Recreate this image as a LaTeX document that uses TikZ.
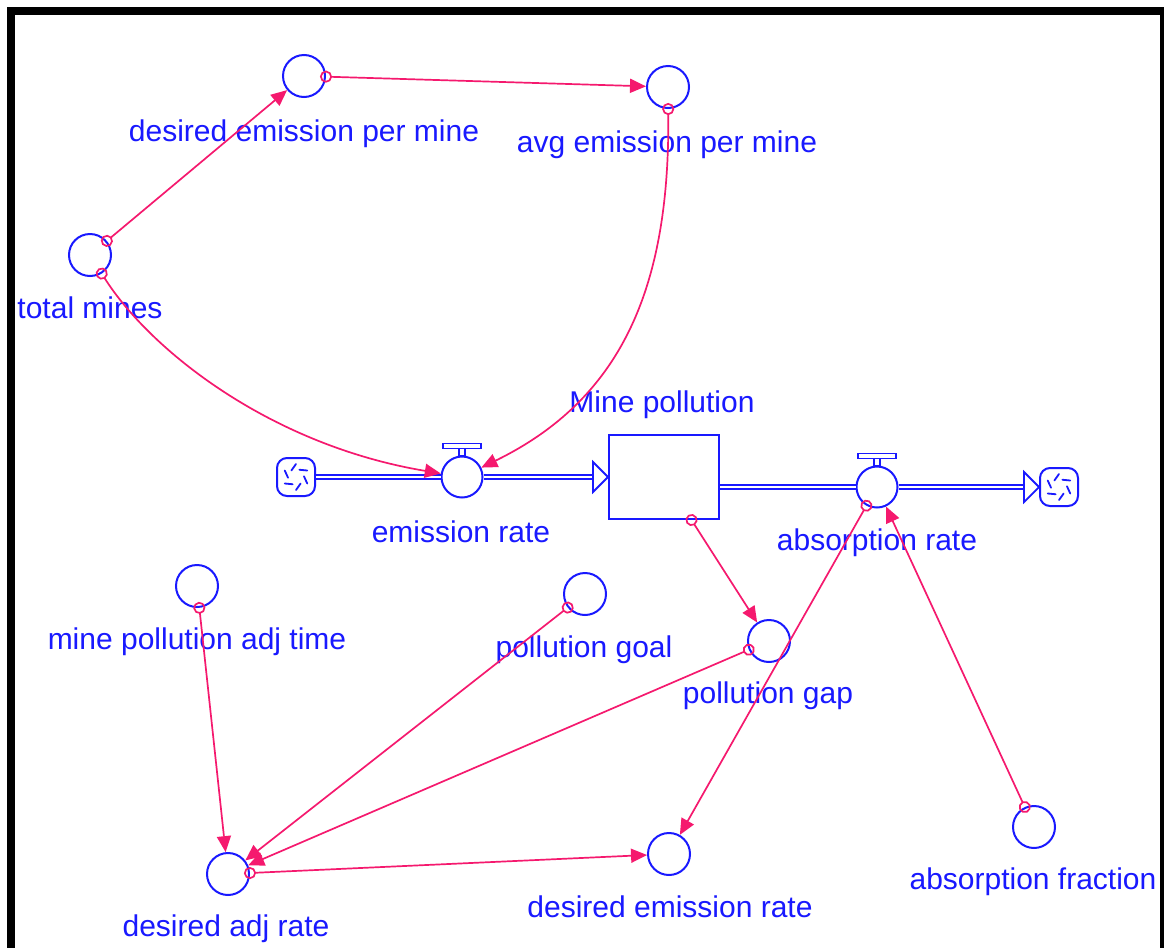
\documentclass[tikz,border=0pt]{standalone}
\usepackage{fontspec}
\setmainfont{Liberation Sans}
\usetikzlibrary{arrows.meta,calc}
\definecolor{sfblue}{RGB}{25,25,255}
\definecolor{linkpink}{RGB}{245,25,110}
\begin{document}
\begin{tikzpicture}[x=1pt,y=-1pt,
  aux/.style={circle, draw=sfblue, line width=2pt, minimum size=42pt, inner sep=0pt},
  valve/.style={aux, minimum size=41pt, fill=white},
  stock/.style={rectangle, draw=sfblue, line width=2pt, minimum width=110pt, minimum height=84pt, inner sep=0pt},
  cloud/.style={rectangle, rounded corners=10pt, draw=sfblue, line width=2pt, minimum size=38pt, inner sep=0pt,
    path picture={
      \foreach \a in {30,90,150,210,270,330}
        \draw[sfblue, line width=1.8pt, line cap=round]
          ($(path picture bounding box.center)+(\a:13pt)$) -- ($(path picture bounding box.center)+(\a+35:8pt)$);
    }},
  lbl/.style={text=sfblue, font=\fontsize{30}{36}\selectfont, anchor=base, inner sep=0pt},
  link/.style={draw=linkpink, line width=1.7pt,
    {Circle[open,length=12pt,width=12pt,sep=-6pt]}-{Triangle[length=16pt,width=14pt]}},
  pipe/.style={draw=sfblue, line width=1.6pt, double=white, double distance=2.4pt},
  flowline/.style={draw=sfblue, line width=1.8pt}
]
% canvas and frame
\fill[white] (0,0) rectangle (1164,948);
\useasboundingbox (0,0) rectangle (1164,948);
\fill[black] (7,7) rectangle (1164,15);
\fill[black] (7,7) rectangle (15,948);
\fill[black] (1160,7) rectangle (1164,948);

% auxiliaries
\node[aux] (dem)  at (304,76)  {};
\node[aux] (aem)  at (668,87)  {};
\node[aux] (tm)   at (90,255)  {};
\node[aux] (mpat) at (197,586) {};
\node[aux] (goal) at (585,594) {};
\node[aux] (gap)  at (769,641) {};
\node[aux] (dar)  at (228,874) {};
\node[aux] (der)  at (669,854) {};
\node[aux] (af)   at (1034,827) {};

% stock, flows, sources and sinks
\node[stock] (st) at (664,477) {};
\node[cloud] (cL) at (296,477) {};
\node[cloud] (cR) at (1059,487) {};
\node[valve] (er) at (462,477) {};
\node[valve] (ar) at (877,487) {};

\foreach \v in {er,ar}{
  \draw[flowline] ([xshift=-3pt]\v.north) rectangle ([xshift=3pt,yshift=7pt]\v.north);
  \draw[flowline] ([xshift=-19pt,yshift=7pt]\v.north) rectangle ([xshift=19pt,yshift=12pt]\v.north);
}

\draw[pipe] (cL) -- (er);
\draw[pipe] (er) -- ([xshift=-15pt]st.west);
\draw[flowline, fill=white] (st.west) -- ++(-15pt,15pt) -- ++(0,-30pt) -- cycle;
\draw[pipe] ([yshift=-10pt]st.east) -- (ar);
\draw[pipe] (ar) -- ([xshift=-15pt]cR.west);
\draw[flowline, fill=white] (cR.west) -- ++(-15pt,15pt) -- ++(0,-30pt) -- cycle;

% labels
\node[lbl] (dem-l)  at (304,141) {desired emission per mine};
\node[lbl] (aem-l)  at (667,152) {avg emission per mine};
\node[lbl] (tm-l)   at (90,318)  {total mines};
\node[lbl] (st-l)   at (662,412) {Mine pollution};
\node[lbl] (er-l)   at (461,542) {emission rate};
\node[lbl] (ar-l)   at (877,550) {absorption rate};
\node[lbl] (mpat-l) at (197,649) {mine pollution adj time};
\node[lbl] (goal-l) at (584,657) {pollution goal};
\node[lbl] (gap-l)  at (768,703) {pollution gap};
\node[lbl] (dar-l)  at (226,936) {desired adj rate};
\node[lbl] (der-l)  at (670,917) {desired emission rate};
\node[lbl] (af-l)   at (1033,889) {absorption fraction};

% information links
\draw[link] (tm) -- (dem);
\draw[link] (dem) -- (aem);
\draw[link] (aem) .. controls (670,290) and (620,400) .. (er);
\draw[link] (tm) .. controls (150,350) and (270,445) .. (er);
\draw[link] (st) -- (gap);
\draw[link] (ar) -- (der);
\draw[link] (af) -- (ar);
\draw[link] (mpat) -- (dar);
\draw[link] (goal) -- (dar);
\draw[link] (gap) -- (dar);
\draw[link] (dar) -- (der);
\end{tikzpicture}
\end{document}
